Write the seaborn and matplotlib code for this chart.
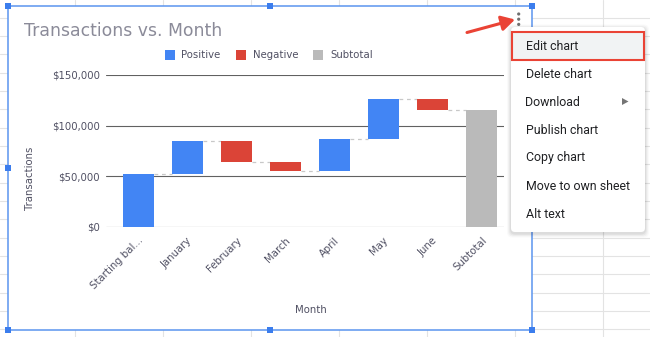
import numpy as np
import pandas as pd
import matplotlib
matplotlib.use("Agg")
import matplotlib.pyplot as plt
import matplotlib.transforms as mtransforms
from matplotlib.patches import Rectangle, FancyBboxPatch, Polygon, Circle
import seaborn as sns

# ---------------- data ----------------
categories = ["Starting bal...", "January", "February", "March", "April", "May", "June", "Subtotal"]
changes = [52500, 32000, -20500, -9000, 32000, 39500, -11500]
y_ticks = [0, 50000, 100000, 150000]
y_tick_labels = ["$0", "$50,000", "$100,000", "$150,000"]
legend_labels = ["Positive", "Negative", "Subtotal"]
menu_items = ["Edit chart", "Delete chart", "Download", "Publish chart",
              "Copy chart", "Move to own sheet", "Alt text"]

POS, NEG, SUB = "#4285f4", "#db4437", "#bababa"
TXT = "#505063"

ends = np.cumsum(changes)
starts = np.concatenate([[0], ends[:-1]])
subtotal = ends[-1]
bottoms = list(np.minimum(starts, ends)) + [0]
heights = list(np.abs(np.array(changes))) + [subtotal]
colors = [POS if c >= 0 else NEG for c in changes] + [SUB]
levels = list(ends)

df = pd.DataFrame({"Month": categories, "height": heights})

sns.set_theme(style="white")
plt.rcParams["font.family"] = ["DejaVu Sans"]

W, H = 650, 337
fig = plt.figure(figsize=(6.5, 3.37), dpi=100)
fig.patch.set_facecolor("white")

# ---------------- background (pixel coords) ----------------
bg = fig.add_axes([0, 0, 1, 1])
bg.set_xlim(0, W)
bg.set_ylim(H, 0)
bg.axis("off")

for x in range(75, W, 88):
    bg.plot([x, x], [0, H], color="#e3e3e3", lw=0.8, zorder=0)
for k in range(0, 19):
    y = 17.5 + 18.35 * k
    bg.plot([0, W], [y, y], color="#e3e3e3", lw=0.8, zorder=0)

bg.add_patch(Rectangle((7.5, 5.5), 524, 324, fc="white", ec="#5b95ef", lw=1.1, zorder=1))
for (hx, hy) in [(7.5, 5.5), (270, 5.5), (531.5, 5.5), (7.5, 167.5), (531.5, 167.5),
                 (7.5, 329.5), (270, 329.5), (531.5, 329.5)]:
    bg.add_patch(Rectangle((hx - 3, hy - 3), 6, 6, fc="#3b7ded", ec="none", zorder=2))

# title
bg.text(24, 35.5, "Transactions vs. Month", fontsize=12.4, color="#8b8b99", va="baseline", zorder=3)

# legend
leg_sq_x = [164.5, 235.7, 313.3]
leg_tx_x = [181.5, 252.7, 330.7]
for lab, c, sx, tx in zip(legend_labels, [POS, NEG, SUB], leg_sq_x, leg_tx_x):
    bg.add_patch(Rectangle((sx, 50), 10, 10, fc=c, ec="none", zorder=3))
    bg.text(tx, 55.5, lab, fontsize=7.3, color=TXT, va="center", zorder=3)

# axis titles
bg.text(30, 178, "Transactions", rotation=90, ha="center", va="center", fontsize=7.3, color=TXT, zorder=3)
bg.text(310.5, 310, "Month", ha="center", va="center", fontsize=7.3, color=TXT, zorder=3)

# menu with shadow
for k, a in [(4, 0.02), (3, 0.03), (2, 0.04), (1, 0.05)]:
    bg.add_patch(FancyBboxPatch((511 - k, 27 - k + 1.5), 134 + 2 * k, 205 + 2 * k,
                                boxstyle="round,pad=0,rounding_size=5",
                                fc="black", ec="none", alpha=a, zorder=4))
bg.add_patch(FancyBboxPatch((511, 27), 134, 205, boxstyle="round,pad=0,rounding_size=4",
                            fc="white", ec="none", zorder=5))
bg.add_patch(Rectangle((512, 32), 132, 28, fc="#f1f3f4", ec="#ea4335", lw=1.5, zorder=6))
for i, item in enumerate(menu_items):
    bg.text(525.5, 46 + 28 * i, item, va="center", fontsize=8.9, family=["Roboto", "DejaVu Sans"],
            color="#202124", zorder=7)
bg.add_patch(Polygon([(622, 98), (622, 105), (628.5, 101.5)], closed=True, fc="#757575", ec="none", zorder=7))

# three dots + arrow
for dy in (14, 19.2, 24.4):
    bg.add_patch(Circle((518.7, dy), 1.6, fc="#707070", ec="none", zorder=7))
bg.annotate("", xy=(515, 19.5), xytext=(467, 32.5),
            arrowprops=dict(arrowstyle="-|>,head_length=0.8,head_width=0.45", lw=2.2,
                            color="#ea4335", shrinkA=0, shrinkB=0, mutation_scale=10),
            zorder=7)

# ---------------- chart axes ----------------
ax = fig.add_axes([106 / W, (H - 227) / H, (504 - 106) / W, (227 - 75) / H])
ax.patch.set_alpha(0)
sns.barplot(data=df, x="Month", y="height", bottom=np.array(bottoms), errorbar=None,
            width=0.63, ax=ax, linewidth=0, zorder=3, color=POS, saturation=1)
for p, c in zip(ax.patches, colors):
    p.set_facecolor(c)
    p.set_edgecolor(c)

for i in range(7):
    ax.hlines(levels[i], i + 0.315, i + 1 - 0.315, colors="#c8c8c8",
              linestyles=(0, (3, 3)), lw=0.9, zorder=2)

ax.set_ylim(0, 150000)
ax.set_xlim(-0.66, 7.45)
ax.set_yticks(y_ticks)
ax.set_yticklabels(y_tick_labels)
ax.set_axisbelow(True)
ax.yaxis.grid(True, color="#616161", lw=0.8)
ax.xaxis.grid(False)
for s in ax.spines.values():
    s.set_visible(False)
ax.set_xlabel("")
ax.set_ylabel("")
ax.tick_params(axis="y", length=0, pad=4.3, labelsize=7.3, labelcolor=TXT)
ax.tick_params(axis="x", length=0, pad=8.6, labelsize=7.3, labelcolor=TXT)
offset = mtransforms.ScaledTranslation(3 / 100, 0, fig.dpi_scale_trans)
for lbl in ax.get_xticklabels():
    lbl.set_rotation(45)
    lbl.set_ha("right")
    lbl.set_va("center")
    lbl.set_rotation_mode("anchor")
    lbl.set_transform(lbl.get_transform() + offset)

fig.savefig("out.png", dpi=100)
